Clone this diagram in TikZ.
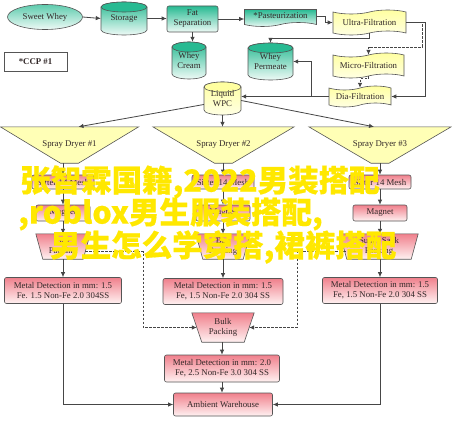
\documentclass[tikz,border=0pt]{standalone}
\usepackage{fontspec}
\setmainfont{Liberation Serif}
\newfontfamily\cjkwm{Noto Sans CJK SC}[FakeBold=0.5]
\usetikzlibrary{arrows.meta,calc,shapes.geometric,shapes.symbols}
\pgfdeclarelayer{back}\pgfdeclarelayer{bg}\pgfdeclarelayer{front}
\pgfsetlayers{back,bg,main,front}
\definecolor{bordc}{RGB}{85,85,85}
\definecolor{linec}{RGB}{70,70,70}
\definecolor{txtc}{RGB}{50,40,40}
\definecolor{tealT}{RGB}{40,186,146}
\definecolor{tealB}{RGB}{238,250,246}
\definecolor{yelT}{RGB}{255,255,160}
\definecolor{yelB}{RGB}{255,255,228}
\definecolor{sdfill}{RGB}{255,255,182}
\definecolor{pinkT}{RGB}{240,128,140}
\definecolor{pinkB}{RGB}{255,242,242}
\definecolor{wmyel}{RGB}{255,232,0}
\newcommand\cylshape[6]{%
  \pgfmathsetmacro\cyA{#1-#3/2}%
  \pgfmathsetmacro\cyB{#1+#3/2}%
  \pgfmathsetmacro\cyT{#2+5}%
  \pgfmathsetmacro\cyU{#2+#4-5}%
  \pgfmathsetmacro\cyR{#3/2}%
  \draw[draw=bordc, line width=0.6pt, top color=#5, bottom color=#6]
    (\cyA,\cyT) -- (\cyA,\cyU) arc[start angle=180,end angle=0,x radius=\cyR,y radius=5]
    -- (\cyB,\cyT) arc[start angle=0,end angle=-180,x radius=\cyR,y radius=5] -- cycle;
  \draw[draw=bordc, line width=0.6pt, fill=#5] (#1,\cyT) ellipse[x radius=\cyR, y radius=5];
}
\begin{document}
\begin{tikzpicture}[x=1pt,y=-1pt,
  base/.style={font=\fontsize{8.8}{10}\selectfont, text=txtc, align=center, inner sep=0pt},
  pinkbox/.style={base, draw=bordc, line width=0.6pt, rounded corners=2pt, top color=pinkT, bottom color=pinkB},
  tealbox/.style={base, draw=bordc, line width=0.6pt, rounded corners=2pt, top color=tealT, bottom color=tealB},
  tealell/.style={base, ellipse, draw=bordc, line width=0.6pt, top color=tealT!75, bottom color=tealB},
  tealtape/.style={base, tape, tape bend height=4pt, draw=bordc, line width=0.6pt, top color=tealT, bottom color=tealB},
  ytape/.style={base, tape, tape bend height=4pt, draw=bordc, line width=0.6pt, top color=yelT, bottom color=yelB},
  ccpbox/.style={base, draw=bordc, line width=1pt, fill=white, font=\fontsize{8.8}{10}\selectfont\bfseries},
  sdshape/.style={draw=bordc, line width=0.6pt, fill=sdfill},
  trapshape/.style={draw=bordc, line width=0.6pt, top color=pinkT, bottom color=pinkB},
  arr/.style={draw=linec, line width=0.8pt, -{Latex[length=5pt,width=4.5pt]}},
  dasharr/.style={arr, dash pattern=on 2.5pt off 1.5pt},
  wm/.style={font=\cjkwm\fontsize{30.5}{32}\selectfont, text=wmyel, inner sep=0pt, anchor=west}
]
\begin{pgfonlayer}{back}
  \fill[white] (0,0) rectangle (452,420);
\end{pgfonlayer}
\useasboundingbox (0,0) rectangle (452,420);

% ---------- top part ----------
\node[tealell, minimum width=75, minimum height=25] (sweet) at (45,17) {Sweet Whey};
\cylshape{124}{2}{46}{33}{tealT}{tealB}
\node[base, minimum width=46, minimum height=33] (storage) at (124,18.5) {Storage};
\node[tealbox, minimum width=51, minimum height=26] (fatsep) at (192.5,19) {Fat\\Separation};
\cylshape{189}{42}{34}{37}{tealT}{tealB}
\node[base, minimum width=34, minimum height=37] (wcream) at (189,60.5) {Whey\\Cream};
\node[tealtape, tape bend top=none, minimum width=72, minimum height=17] (pasteur) at (280.5,16) {*Pasteurization};
\node[ytape, minimum width=73, minimum height=25] (ultra) at (369.5,22.5) {Ultra-Filtration};
\cylshape{270.5}{43}{45}{37}{tealT}{tealB}
\node[base, minimum width=45, minimum height=37] (wperm) at (270.5,61.5) {Whey\\Permeate};
\node[ccpbox, minimum width=63, minimum height=18] (ccp) at (35.5,62) {*CCP \#1};
\node[ytape, minimum width=71, minimum height=25] (micro) at (368.5,65.5) {Micro-Filtration};
\node[ytape, minimum width=62, minimum height=21] (dia) at (360,96.5) {Dia-Filtration};
\cylshape{222.5}{82}{37}{33}{yelT}{yelB}
\node[base, minimum width=37, minimum height=33] (wpc) at (222.5,98.5) {Liquid\\WPC};

% ---------- spray dryers ----------
\node[base, minimum width=138, minimum height=36] (sd1) at (69.5,145) {Spray Dryer \#1};
\node[base, minimum width=141, minimum height=36] (sd2) at (223.5,145) {Spray Dryer \#2};
\node[base, minimum width=142, minimum height=36] (sd3) at (380,145) {Spray Dryer \#3};
\begin{pgfonlayer}{bg}
\foreach \n in {sd1,sd2,sd3}
  \draw[sdshape] (\n.north west) -- (\n.north east) -- ($(\n.south)+(9,0)$) -- ($(\n.south)+(-9,0)$) -- cycle;
\end{pgfonlayer}

% ---------- columns ----------
\node[pinkbox, minimum width=62, minimum height=14] (sif1) at (63,182) {Sifter 14 Mesh};
\node[pinkbox, minimum width=62, minimum height=14] (sif2) at (223,182) {Sifter 14 Mesh};
\node[pinkbox, minimum width=62, minimum height=14] (sif3) at (380,182) {Sifter 14 Mesh};
\node[pinkbox, minimum width=54, minimum height=16] (mag1) at (63,213) {Magnet};
\node[pinkbox, minimum width=54, minimum height=16] (mag2) at (223,213) {Magnet};
\node[pinkbox, minimum width=54, minimum height=16] (mag3) at (380,213) {Magnet};
\node[base, minimum width=54, minimum height=25] (trap1) at (63,246.5) {Bag\\Packing};
\node[base, minimum width=54, minimum height=25] (trap2) at (223,246.5) {Bag\\Packing};
\node[base, minimum width=78, minimum height=25] (trap3) at (379,246.5) {Super Sack\\Packing};
\node[pinkbox, minimum width=117, minimum height=26] (md1) at (63,290.5) {Metal Detection in mm: 1.5\\Fe. 1.5 Non-Fe 2.0 304SS};
\node[pinkbox, minimum width=120, minimum height=26] (md2) at (223,291.5) {Metal Detection in mm: 1.5\\Fe, 1.5 Non-Fe 2.0 304 SS};
\node[pinkbox, minimum width=115, minimum height=26] (md3) at (380,290.5) {Metal Detection in mm: 1.5\\Fe, 1.5 Non-Fe 2.0 304 SS};
\node[base, minimum width=62, minimum height=29] (bulk) at (223,327.5) {Bulk\\Packing};
\node[pinkbox, minimum width=115, minimum height=27] (mdb) at (222,368.5) {Metal Detection in mm: 2.0\\Fe, 2.5 Non-Fe 3.0 304 SS};
\node[pinkbox, minimum width=99, minimum height=23] (amb) at (223,404.5) {Ambient Warehouse};
\begin{pgfonlayer}{bg}
\foreach \n in {trap1,trap2,trap3}
  \draw[trapshape] (\n.north west) -- (\n.north east) -- ($(\n.south east)+(-7,0)$) -- ($(\n.south west)+(7,0)$) -- cycle;
\draw[trapshape] (bulk.north west) -- (bulk.north east) -- ($(bulk.south east)+(-10,0)$) -- ($(bulk.south west)+(10,0)$) -- cycle;
\end{pgfonlayer}

% ---------- connectors ----------
\draw[arr] (sweet.east) -- (storage.west);
\draw[arr] (storage.east) -- (storage.east -| fatsep.west);
\draw[arr] (fatsep.south) -- (fatsep.south |- wcream.north);
\draw[arr] (fatsep.east) -- (fatsep.east -| pasteur.west);
\draw[arr] (pasteur.east) -- ++(9,0) |- (ultra.west);
\draw[arr] (ultra.south) -- ++(0,5) -| (wperm.north);
\draw[arr] (ultra.east) -- ++(19,0) |- (dia.east);
\draw[dasharr] ($(ultra.east)+(16,2)$) -- ++(0,22.5) -| (micro.north);
\draw[dasharr] (micro.south) -- ++(0,2.5) -| (dia.north);
\draw[arr] (dia.west) -- (dia.west -| wpc.east);
\draw[arr] ($(dia.west)+(-17,0)$) |- (wperm.east);
\draw[arr] ($(wpc.west)+(0,6)$) -- ($(sd1.north)+(9,0)$);
\draw[arr] (wpc.south) -- (wpc.south |- sd2.north);
\draw[arr] ($(wpc.east)+(0,2)$) -- ($(sd3.north)+(-6,0)$);

\draw[arr] (sif1.north |- sd1.south) -- (sif1.north);
\draw[arr] (sif2.north |- sd2.south) -- (sif2.north);
\draw[arr] (sif3.north |- sd3.south) -- (sif3.north);
\draw[arr] (sif1) -- (mag1);
\draw[arr] (sif2) -- (mag2);
\draw[arr] (sif3) -- (mag3);
\draw[arr] (mag1) -- (trap1);
\draw[arr] (mag2) -- (trap2);
\draw[arr] (mag3.south) -- (mag3.south |- trap3.north);
\draw[arr] (trap1) -- (md1);
\draw[arr] (trap2) -- (md2);
\draw[arr] (trap3.south -| md3.north) -- (md3.north);
\draw[arr] (bulk.south -| mdb.north) -- (mdb.north);
\draw[arr] (mdb.south) -- (mdb.south |- amb.north);
\draw[arr] (md1.south) |- (amb.west);
\draw[arr] (md3.south) |- (amb.east);

\coordinate (dlx) at (143,0);
\coordinate (drx) at (297,0);
\draw[dasharr] ($(trap1.east)+(-5,5)$) -| (dlx |- bulk.west) -- ($(bulk.west)+(5,0)$);
\draw[dasharr] ($(trap3.west)+(6,5)$) -| (drx |- bulk.east) -- ($(bulk.east)+(-5,0)$);

% ---------- overlay text ----------
\begin{pgfonlayer}{front}
\node[wm] (wm1) at (20,182) {\bfseries 张智霖国籍,2022男装搭配};
\node[wm] (wm2) at (18,214) {\bfseries ,roblox男生服装搭配,};
\node[wm] (wm3) at (50,247) {\bfseries 男生怎么学穿搭,裙裤搭配};
\end{pgfonlayer}
\end{tikzpicture}
\end{document}
